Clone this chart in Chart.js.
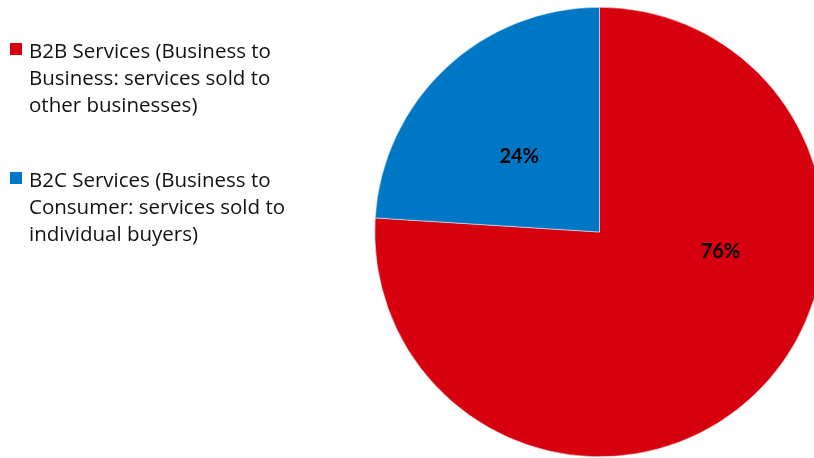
<!DOCTYPE html>
<html>
<head>
<meta charset="utf-8">
<script src="https://cdn.jsdelivr.net/npm/chart.js@4"></script>
<style>
  html, body { margin: 0; padding: 0; background: #fff; overflow: hidden; }
  #wrap { width: 830px; height: 458px; position: relative; }
</style>
</head>
<body>
<div id="wrap"><canvas id="pieChart"></canvas></div>
<script>
// service type split
var labels = [
    ['B2B Services (Business to', 'Business: services sold to', 'other businesses)'],
    ['B2C Services (Business to', 'Consumer: services sold to', 'individual buyers)']
];
var shares = [76, 24];
var colors = ['#D7000F', '#0077C5'];

// legend on the left, lines stacked under each swatch
var sideLegend = {
    id: 'sideLegend',
    afterDraw: function(chart) {
        var ctx = chart.ctx;
        ctx.save();
        ctx.font = '20.5px "Open Sans"';
        ctx.textBaseline = 'alphabetic';
        var tops = [43, 172];
        labels.forEach(function(lines, i) {
            ctx.fillStyle = colors[i];
            ctx.fillRect(10, tops[i], 12, 12);
            ctx.fillStyle = '#111';
            lines.forEach(function(line, j) {
                ctx.fillText(line, 29, tops[i] + 15 + j * 27);
            });
        });
        ctx.restore();
    }
};

// percentage labels inside the slices
var sliceLabels = {
    id: 'sliceLabels',
    afterDatasetsDraw: function(chart, args, opts) {
        var ctx = chart.ctx;
        var meta = chart.getDatasetMeta(0);
        ctx.save();
        ctx.font = 'bold 20px Lato';
        ctx.fillStyle = '#000';
        ctx.textAlign = 'center';
        ctx.textBaseline = 'middle';
        meta.data.forEach(function(arc, i) {
            var p = arc.getProps(['x', 'y', 'startAngle', 'endAngle', 'outerRadius'], true);
            var a = p.startAngle + (p.endAngle - p.startAngle) * opts.along[i];
            var r = p.outerRadius * opts.depth[i];
            ctx.fillText(shares[i] + '%', p.x + Math.cos(a) * r, p.y + Math.sin(a) * r);
        });
        ctx.restore();
    }
};

var ctxPie = document.getElementById('pieChart').getContext('2d');
var pieChart = new Chart(ctxPie, {
    type: 'pie',
    data: {
        labels: labels.map(function(l) { return l.join(' '); }),
        datasets: [{
            data: shares,
            backgroundColor: colors,
            borderColor: '#ffffff',
            borderWidth: 0.5
        }]
    },
    options: {
        responsive: true,
        maintainAspectRatio: false,
        animation: false,
        layout: { padding: { left: 374, right: 5, top: 7, bottom: 1 } },
        plugins: {
            legend: { display: false },
            tooltip: { enabled: false },
            sliceLabels: { along: [0.362, 0.458], depth: [0.545, 0.49] }
        }
    },
    plugins: [sideLegend, sliceLabels]
});
</script>
</body>
</html>
